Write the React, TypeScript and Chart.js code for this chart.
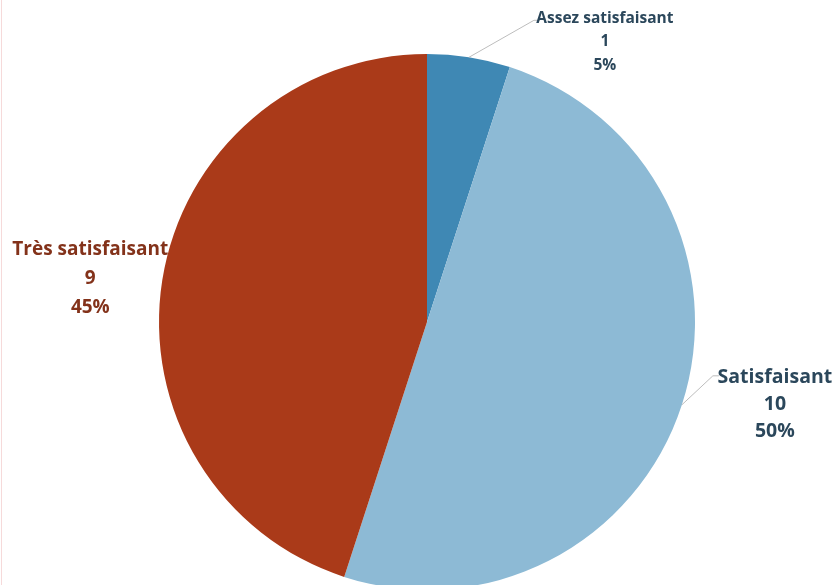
import React, { useEffect, useRef } from "react";
import { Chart, registerables } from "chart.js";

Chart.register(...registerables);

const categories = ["Assez satisfaisant", "Satisfaisant", "Très satisfaisant"];
const counts = [1, 10, 9];
const percents = ["5%", "50%", "45%"];
const sliceColors = ["#3f88b4", "#8dbad5", "#aa3a19"];
const textColors = ["#2b475b", "#2b475b", "#83321a"];

const labelPlacement = [
  { elbow: [65, -37], end: 6, text: [136, -39], size: 15.5, lh: 23.5, line: true },
  { elbow: [31, -29], end: 6, text: [93, -27], size: 19.5, lh: 27, line: true },
  { elbow: [0, 0], end: 0, text: [-72, -30], size: 19, lh: 29, line: false },
];

const labelPlugin = {
  id: "pieLabels",
  afterDatasetsDraw(chart: any) {
    const ctx = chart.ctx;
    const meta = chart.getDatasetMeta(0);
    meta.data.forEach((arc: any, i: number) => {
      const p = labelPlacement[i];
      const mid = (arc.startAngle + arc.endAngle) / 2;
      const ex = arc.x + Math.cos(mid) * arc.outerRadius;
      const ey = arc.y + Math.sin(mid) * arc.outerRadius;
      ctx.save();
      if (p.line) {
        ctx.strokeStyle = "#bdbdbd";
        ctx.lineWidth = 1;
        ctx.beginPath();
        ctx.moveTo(ex, ey);
        ctx.lineTo(ex + p.elbow[0], ey + p.elbow[1]);
        ctx.lineTo(ex + p.elbow[0] + p.end, ey + p.elbow[1]);
        ctx.stroke();
      }
      ctx.fillStyle = textColors[i];
      ctx.font = `bold ${p.size}px "Open Sans", Lato, sans-serif`;
      ctx.textAlign = "center";
      ctx.textBaseline = "middle";
      const tx = ex + p.text[0];
      const ty = ey + p.text[1];
      const lines = [categories[i], String(counts[i]), percents[i]];
      lines.forEach((t, k) => ctx.fillText(t, tx, ty + k * p.lh));
      ctx.restore();
    });
  },
};

export default function App() {
  const ref = useRef<HTMLCanvasElement>(null);
  useEffect(() => {
    document.body.style.margin = "0";
    const chart = new Chart(ref.current!, {
      type: "pie",
      data: {
        labels: categories,
        datasets: [
          {
            data: counts,
            backgroundColor: sliceColors,
            borderWidth: 0,
          },
        ],
      },
      options: {
        responsive: false,
        animation: false,
        layout: { padding: { left: 159, right: 143, top: 54, bottom: 10 } },
        plugins: { legend: { display: false }, tooltip: { enabled: false } },
      },
      plugins: [labelPlugin],
    });
    return () => chart.destroy();
  }, []);
  return (
    <div
      style={{
        position: "relative",
        width: 838,
        height: 585,
        overflow: "hidden",
        background: "#ffffff",
      }}
    >
      <div
        style={{
          position: "absolute",
          left: 1,
          top: 0,
          width: 1,
          height: 585,
          background: "#f6dada",
        }}
      />
      <canvas ref={ref} width={838} height={600} style={{ display: "block" }} />
    </div>
  );
}
